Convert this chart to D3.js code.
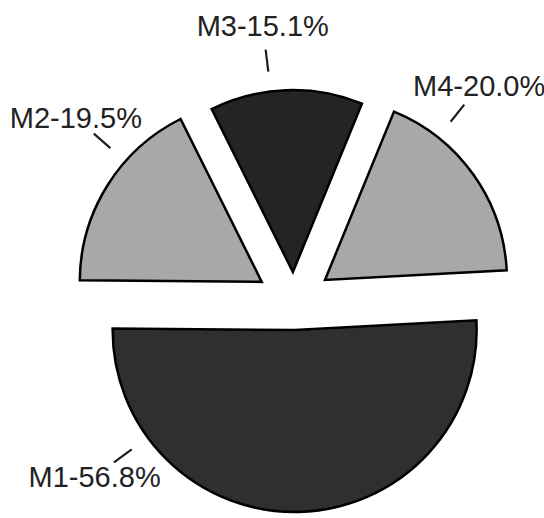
<!DOCTYPE html>
<html>
<head>
<meta charset="utf-8">
<script src="https://cdn.jsdelivr.net/npm/d3@7/dist/d3.min.js"></script>
<style>
  html, body { margin: 0; padding: 0; background: #fff; }
  svg { display: block; }
</style>
</head>
<body>
<div id="chart"></div>
<script>
// Share of each mode (percent)
const categories = ["M1", "M2", "M3", "M4"];
const shares = [56.8, 19.5, 15.1, 20.0];
const fills = ["#2f2f2f", "#a8a8a8", "#242424", "#a8a8a8"];

const width = 544, height = 518;
const cx = 294, cy = 302;
const radius = 182;
// how far each wedge is pulled out from the centre
const explode = [28, 38, 30, 38];
// where along each wedge (0 = start, 1 = end) its label sits
const labelAt = [0.8, 0.65, 0.4, 0.25];

const svg = d3.select("#chart").append("svg")
  .attr("width", width)
  .attr("height", height);

const deg = Math.PI / 180;
const total = d3.sum(shares);
// centre the largest wedge on the bottom of the chart
const start = 178.7 * deg - (shares[0] / total) * Math.PI;

const pie = d3.pie().sort(null).value(d => d.value)
  .startAngle(start).endAngle(start + 2 * Math.PI);
const arcs = pie(categories.map((c, i) => ({ name: c, value: shares[i], i })));

const arc = d3.arc().innerRadius(0).outerRadius(radius);

const g = svg.append("g").attr("transform", `translate(${cx},${cy})`);

const polar = (a, r) => [Math.sin(a) * r, -Math.cos(a) * r];

const slices = g.selectAll("g.slice").data(arcs).enter().append("g")
  .attr("class", "slice")
  .attr("transform", d => {
    const mid = (d.startAngle + d.endAngle) / 2;
    const [x, y] = polar(mid, explode[d.data.i]);
    return `translate(${x},${y})`;
  });

slices.append("path")
  .attr("d", arc)
  .attr("fill", d => fills[d.data.i])
  .attr("stroke", "#000")
  .attr("stroke-width", 2.5)
  .attr("stroke-linejoin", "miter");

slices.each(function (d) {
  const sel = d3.select(this);
  const a = d.startAngle + (d.endAngle - d.startAngle) * labelAt[d.data.i];
  const [x1, y1] = polar(a, radius + 20);
  const [x2, y2] = polar(a, radius + 42);
  sel.append("line")
    .attr("x1", x1).attr("y1", y1)
    .attr("x2", x2).attr("y2", y2)
    .attr("stroke", "#1e1e1e")
    .attr("stroke-width", 2.2);
  const [tx, ty] = polar(a, radius + 66);
  sel.append("text")
    .attr("x", tx)
    .attr("y", ty)
    .attr("text-anchor", "middle")
    .attr("dominant-baseline", "central")
    .attr("font-family", "'Liberation Sans', Arial, Helvetica, sans-serif")
    .attr("font-size", 29)
    .attr("fill", "#222")
    .text(`${d.data.name}-${d.data.value.toFixed(1)}%`);
});
</script>
</body>
</html>
